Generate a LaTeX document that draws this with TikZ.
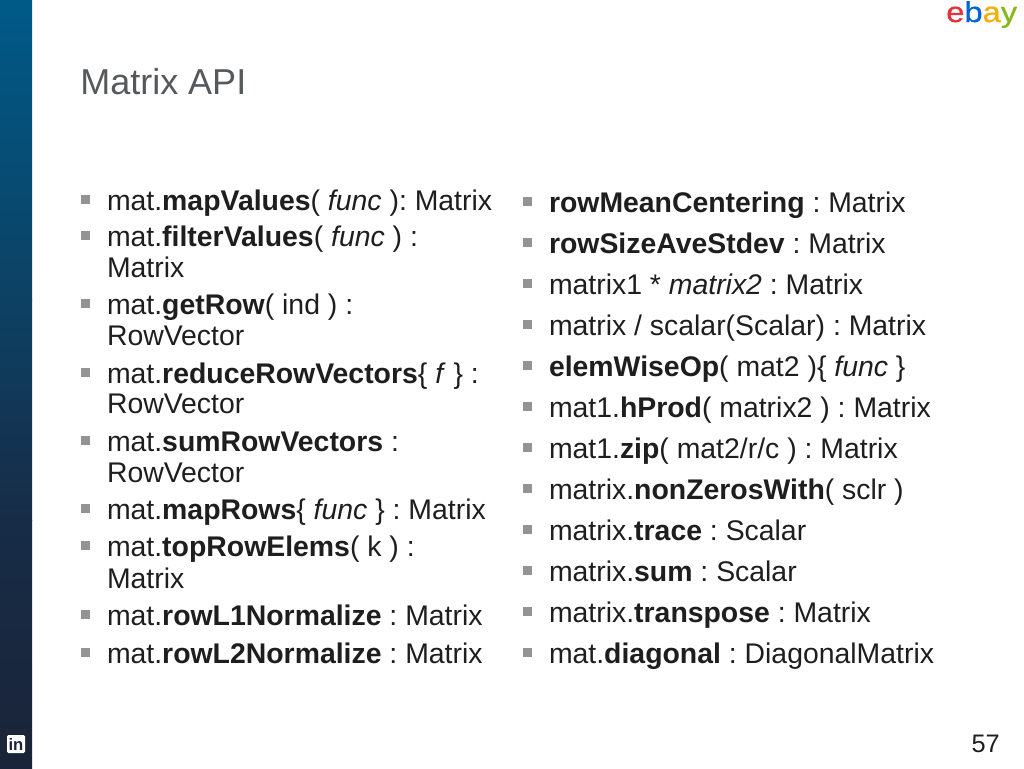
\documentclass[tikz,border=0pt]{standalone}
\usepackage{fontspec}
\setmainfont{Liberation Sans}
\newfontfamily\logofont[FakeStretch=1.14,FakeBold=0.6]{Liberation Sans}
\definecolor{bodyc}{HTML}{1E1E1E}
\definecolor{titlec}{HTML}{56595C}
\definecolor{bulc}{HTML}{939393}
\definecolor{bartop}{HTML}{005A88}
\definecolor{barmid}{HTML}{0D4163}
\definecolor{barlow}{HTML}{172C47}
\definecolor{barbot}{HTML}{1A2438}
\definecolor{ebr}{HTML}{E53238}
\definecolor{ebb}{HTML}{0064D2}
\definecolor{eby}{HTML}{F5AF02}
\definecolor{ebg}{HTML}{86B817}
\tikzset{
 txt/.style={anchor=base west,inner sep=0pt,outer sep=0pt,text=bodyc,font=\fontsize{21.3}{21.3}\selectfont},
 bul/.style={fill=bulc,draw=none,minimum size=7pt,inner sep=0pt,outer sep=0pt,anchor=center},
}
\newcommand{\li}[4]{%
 \node[bul] (b#1) at (#2+4.5,#3-10.5) {};
 \node[txt] (t#1) at (#2+26,#3+0.5) {#4};}
\newcommand{\co}[4]{\node[txt] (c#1) at (#2,#3+0.5) {#4};}
\begin{document}
\frenchspacing
\begin{tikzpicture}[x=0.75pt,y=-0.75pt]
\useasboundingbox (0,0) rectangle (1024,768);
\fill[white] (0,0) rectangle (1024,768);
\shade[top color=bartop,bottom color=barmid] (0,0) rectangle (32,300);
\shade[top color=barmid,bottom color=barlow] (0,300) rectangle (32,520);
\shade[top color=barlow,bottom color=barbot] (0,520) rectangle (32,768);
% linkedin
\node[fill=white,rounded corners=1pt,minimum width=13.5pt,minimum height=13.5pt,inner sep=0pt,text=barbot,font=\fontsize{12.5}{12.5}\selectfont\bfseries] (li) at (16,744) {in};
% ebay
\node[anchor=base west,inner sep=0pt,font=\fontsize{21.5}{21.5}\logofont] (logo) at (946,22) {\textcolor{ebr}{e}\textcolor{ebb}{b}\textcolor{eby}{a}\textcolor{ebg}{y}};
% title
\node[anchor=base west,inner sep=0pt,text=titlec,font=\fontsize{27}{27}\selectfont] (title) at (80,94) {Matrix API};
% left column
\li{1}{81}{210}{mat.\textbf{mapValues}( \textit{func} ): Matrix}
\li{2}{81}{246}{mat.\textbf{filterValues}( \textit{func} ) :}
\co{2}{107}{277}{Matrix}
\li{3}{81}{314}{mat.\textbf{getRow}( ind ) :}
\co{3}{107}{345}{RowVector}
\li{4}{81}{383}{mat.\textbf{reduceRowVectors}\{ \textit{f} \} :}
\co{4}{107}{413}{RowVector}
\li{5}{81}{451}{mat.\textbf{sumRowVectors} :}
\co{5}{107}{482}{RowVector}
\li{6}{81}{519}{mat.\textbf{mapRows}\{ \textit{func} \} : Matrix}
\li{7}{81}{556}{mat.\textbf{topRowElems}( k ) :}
\co{7}{107}{588}{Matrix}
\li{8}{81}{625}{mat.\textbf{rowL1Normalize} : Matrix}
\li{9}{81}{663}{mat.\textbf{rowL2Normalize} : Matrix}
% right column
\li{10}{523}{212}{\textbf{rowMeanCentering} : Matrix}
\li{11}{523}{253}{\textbf{rowSizeAveStdev} : Matrix}
\li{12}{523}{294}{matrix1 * \textit{matrix2} : Matrix}
\li{13}{523}{335}{matrix / scalar(Scalar) : Matrix}
\li{14}{523}{376}{\textbf{elemWiseOp}( mat2 )\{ \textit{func} \}}
\li{15}{523}{417}{mat1.\textbf{hProd}( matrix2 ) : Matrix}
\li{16}{523}{458}{mat1.\textbf{zip}( mat2/r/c ) : Matrix}
\li{17}{523}{499}{matrix.\textbf{nonZerosWith}( sclr )}
\li{18}{523}{540}{matrix.\textbf{trace} : Scalar}
\li{19}{523}{581}{matrix.\textbf{sum} : Scalar}
\li{20}{523}{622}{matrix.\textbf{transpose} : Matrix}
\li{21}{523}{663}{mat.\textbf{diagonal} : DiagonalMatrix}
\node[anchor=base east,inner sep=0pt,text=bodyc,font=\fontsize{19}{19}\selectfont] (num) at (1000,752) {57};
\end{tikzpicture}
\end{document}
